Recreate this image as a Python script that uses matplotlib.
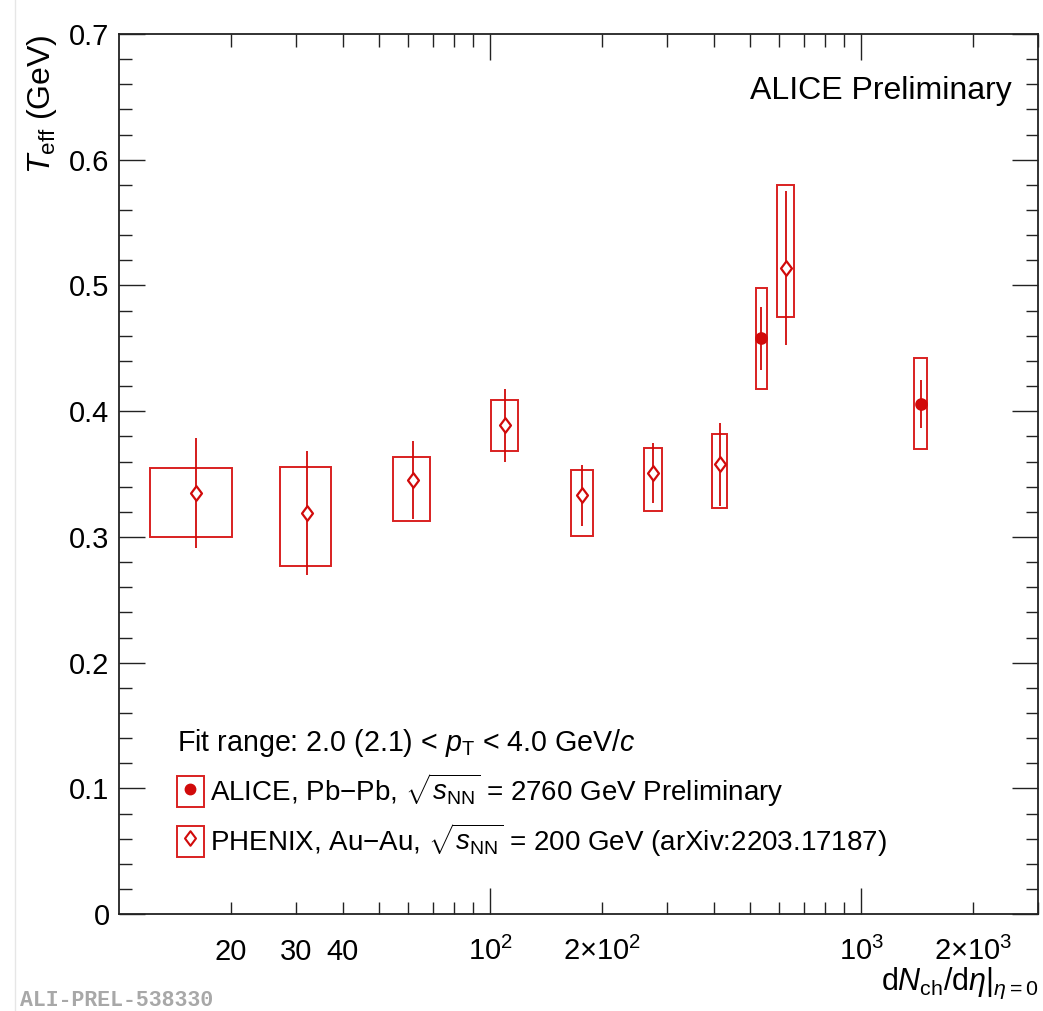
import numpy as np
import matplotlib
matplotlib.use("Agg")
import matplotlib.pyplot as plt
from matplotlib.patches import Rectangle
from matplotlib.lines import Line2D
from matplotlib.legend_handler import HandlerTuple
from matplotlib.path import Path
import matplotlib.ticker as mticker

plt.rcParams['font.family'] = ['Liberation Sans', 'DejaVu Sans']
plt.rcParams['mathtext.fontset'] = 'custom'
plt.rcParams['mathtext.rm'] = 'Liberation Sans'
plt.rcParams['mathtext.it'] = 'Liberation Sans:italic'
plt.rcParams['mathtext.bf'] = 'Liberation Sans:bold'

# ---------------- data ----------------
phenix_dndeta = [16.1, 32.1, 61.8, 109.7, 176.9, 274.3, 414.7, 625.6]
phenix_dndeta_err = [4, 5, 7, 9, 12, 15, 20, 33]
phenix_teff = [0.335, 0.319, 0.345, 0.389, 0.333, 0.351, 0.358, 0.514]
phenix_stat = [0.044, 0.049, 0.031, 0.029, 0.024, 0.024, 0.033, 0.061]
phenix_sys_hi = [0.020, 0.037, 0.019, 0.020, 0.020, 0.020, 0.024, 0.066]
phenix_sys_lo = [0.035, 0.042, 0.032, 0.021, 0.032, 0.030, 0.035, 0.039]

alice_dndeta = [538, 1444]
alice_dndeta_err = [19.5, 54]
alice_teff = [0.458, 0.406]
alice_stat = [0.025, 0.019]
alice_sys_hi = [0.040, 0.036]
alice_sys_lo = [0.040, 0.036]

x_major = [100, 1000]
x_major_labels = [r"$10^{2}$", r"$10^{3}$"]
x_minor = [20, 30, 40, 50, 60, 70, 80, 90, 200, 300, 400, 500, 600, 700, 800, 900, 2000, 3000]
x_minor_labels = {20: "20", 30: "30", 40: "40", 200: r"$2{\times}10^{2}$", 2000: r"$2{\times}10^{3}$"}

legend_title = r"Fit range: 2.0 (2.1) < $p_{\rm T}$ < 4.0 GeV/$c$"
alice_label = r"ALICE, Pb$-$Pb, $\sqrt{s_{\rm NN}}$ = 2760 GeV Preliminary"
phenix_label = r"PHENIX, Au$-$Au, $\sqrt{s_{\rm NN}}$ = 200 GeV (arXiv:2203.17187)"

col = '#d10a0a'
box_col = '#d92020'

diamond = Path([(0, 1), (0.75, 0), (0, -1), (-0.75, 0), (0, 1)],
               [Path.MOVETO, Path.LINETO, Path.LINETO, Path.LINETO, Path.CLOSEPOLY])

fig = plt.figure(figsize=(10.43, 10.11), dpi=100)
ax = fig.add_axes([0.1144, 0.0957, 0.8812, 0.8707])


def draw_set(xs, xe, ys, stat, slo, shi, marker, mfc, ms):
    for x, dx, y, s, lo, hi in zip(xs, xe, ys, stat, slo, shi):
        ax.add_patch(Rectangle((x - dx, y - lo), 2 * dx, lo + hi, fill=False,
                               ec=box_col, lw=1.4, zorder=2))
    ax.errorbar(xs, ys, yerr=stat, fmt='none', ecolor=col, elinewidth=1.3,
                capsize=0, zorder=3)
    ax.plot(xs, ys, ls='none', marker=marker, mfc=mfc, mec=col, mew=1.6,
            ms=ms, zorder=4)


draw_set(phenix_dndeta, phenix_dndeta_err, phenix_teff, phenix_stat,
         phenix_sys_lo, phenix_sys_hi, diamond, 'white', 10.5)
draw_set(alice_dndeta, alice_dndeta_err, alice_teff, alice_stat,
         alice_sys_lo, alice_sys_hi, 'o', col, 7.5)

ax.set_xscale('log')
ax.set_xlim(10, 3000)
ax.set_ylim(0, 0.7)

ax.xaxis.set_major_locator(mticker.FixedLocator(x_major))
ax.xaxis.set_major_formatter(mticker.FixedFormatter(x_major_labels))
ax.xaxis.set_minor_locator(mticker.FixedLocator(x_minor))
ax.xaxis.set_minor_formatter(mticker.FuncFormatter(lambda v, p: x_minor_labels.get(int(round(v)), "")))
ax.yaxis.set_major_locator(mticker.MultipleLocator(0.1))
ax.yaxis.set_minor_locator(mticker.MultipleLocator(0.02))
ax.yaxis.set_major_formatter(mticker.FuncFormatter(lambda v, p: "0" if abs(v) < 1e-9 else f"{v:.1f}"))

ax.tick_params(which='both', direction='in', top=True, right=True, width=1.0, color='#222222')
ax.tick_params(which='major', length=19)
ax.tick_params(which='minor', length=9)
ax.tick_params(axis='y', which='both', labelsize=21, pad=7)
ax.tick_params(axis='x', which='both', labelsize=21, pad=33)
for t in ax.xaxis.get_major_ticks() + ax.xaxis.get_minor_ticks():
    t.label1.set_verticalalignment('baseline')
for s in ax.spines.values():
    s.set_linewidth(1.3)
    s.set_color('#222222')

ax.set_ylabel(r"$T_{\rm eff}$ (GeV)", fontsize=23, loc='top')
ax.yaxis.set_label_coords(-0.066, 1.0)
ax.set_xlabel(r"d$N_{\rm ch}$/d$\eta$|$_{\eta=0}$", fontsize=22, loc='right')
ax.xaxis.set_label_coords(1.0, -0.058)

ax.text(0.971, 0.926, "ALICE Preliminary", transform=ax.transAxes, ha='right',
        va='baseline', fontsize=23)

h_alice = (Rectangle((0, 0), 1, 1, fill=False, ec=box_col, lw=1.4),
           Line2D([], [], ls='none', marker='o', mfc=col, mec=col, ms=7.5))
h_phenix = (Rectangle((0, 0), 1, 1, fill=False, ec=box_col, lw=1.4),
            Line2D([], [], ls='none', marker=diamond, mfc='white', mec=col, mew=1.5, ms=10.5))
leg = ax.legend([h_alice, h_phenix], [alice_label, phenix_label],
                handler_map={tuple: HandlerTuple(ndivide=1)},
                title=legend_title, title_fontsize=20.6, fontsize=20,
                loc='lower left', bbox_to_anchor=(0.0625, 0.063),
                frameon=False, handlelength=0.98, handleheight=1.35,
                handletextpad=0.2, labelspacing=0.45, borderpad=0,
                borderaxespad=0, alignment='left')

fig.text(0.019, 0.005, "ALI-PREL-538330", fontsize=15.5, color='#a8a8a8',
         family='Liberation Mono', weight='bold', ha='left', va='baseline')
fig.add_artist(Line2D([0.0148, 0.0148], [0, 1], transform=fig.transFigure,
                      color='#e6e6e6', lw=1))

fig.savefig("out.png", dpi=100)
